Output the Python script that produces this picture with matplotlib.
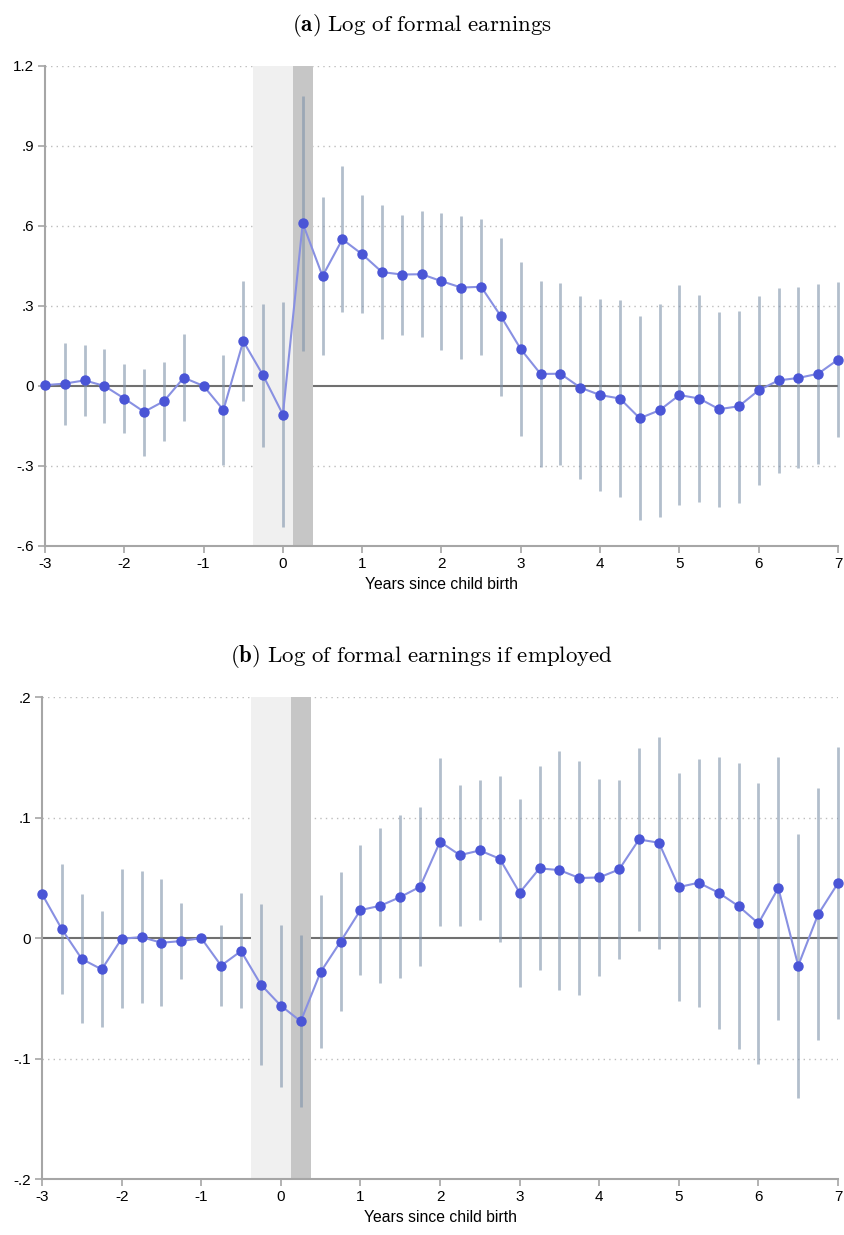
import numpy as np
import matplotlib.pyplot as plt

plt.rcParams['font.family'] = ['Liberation Sans', 'DejaVu Sans']
plt.rcParams['mathtext.fontset'] = 'cm'

# event time in years (quarterly)
years = np.arange(-3, 7.01, 0.25)

# (a) log of formal earnings
est_a = [0.003, 0.009, 0.021, 0.000, -0.047, -0.097, -0.057, 0.031, 0.000, -0.090,
         0.168, 0.040, -0.107, 0.610, 0.412, 0.550, 0.494, 0.427, 0.418, 0.419,
         0.393, 0.369, 0.372, 0.261, 0.138, 0.045, 0.046, -0.006, -0.034, -0.047,
         -0.121, -0.091, -0.034, -0.047, -0.087, -0.076, -0.016, 0.021, 0.030, 0.046,
         0.099]
hi_a = [np.nan, 0.160, 0.152, 0.137, 0.082, 0.065, 0.091, 0.195, np.nan, 0.117,
        0.395, 0.308, 0.314, 1.088, 0.710, 0.823, 0.715, 0.677, 0.642, 0.657,
        0.647, 0.637, 0.626, 0.556, 0.466, 0.395, 0.387, 0.338, 0.327, 0.324,
        0.261, 0.307, 0.379, 0.342, 0.279, 0.283, 0.338, 0.367, 0.372, 0.383,
        0.390]
lo_a = [np.nan, -0.146, -0.112, -0.137, -0.176, -0.262, -0.205, -0.132, np.nan, -0.297,
        -0.056, -0.228, -0.528, 0.133, 0.115, 0.279, 0.273, 0.175, 0.192, 0.182,
        0.135, 0.101, 0.118, -0.036, -0.188, -0.303, -0.296, -0.350, -0.392, -0.418,
        -0.501, -0.493, -0.448, -0.434, -0.455, -0.437, -0.370, -0.327, -0.308, -0.293,
        -0.192]

# (b) log of formal earnings if employed
est_b = [0.0365, 0.0072, -0.0174, -0.0260, -0.0006, 0.0008, -0.0039, -0.0025, 0.0, -0.0229,
         -0.0108, -0.0387, -0.0561, -0.0691, -0.0282, -0.0030, 0.0232, 0.0268, 0.0340, 0.0426,
         0.0799, 0.0688, 0.0727, 0.0658, 0.0376, 0.0578, 0.0564, 0.0498, 0.0503, 0.0569,
         0.0818, 0.0791, 0.0423, 0.0459, 0.0376, 0.0265, 0.0122, 0.0415, -0.0229, 0.0196,
         0.0456]
hi_b = [np.nan, 0.0611, 0.0362, 0.0221, 0.0572, 0.0558, 0.0487, 0.0293, np.nan, 0.0111,
        0.0370, 0.0279, 0.0111, 0.0022, 0.0354, 0.0550, 0.0768, 0.0912, 0.1020, 0.1086,
        0.1496, 0.1274, 0.1308, 0.1346, 0.1153, 0.1424, 0.1551, 0.1468, 0.1321, 0.1310,
        0.1578, 0.1667, 0.1368, 0.1487, 0.1504, 0.1451, 0.1283, 0.1504, 0.0865, 0.1244,
        0.1584]
lo_b = [np.nan, -0.0464, -0.0708, -0.0741, -0.0580, -0.0542, -0.0564, -0.0337, np.nan, -0.0564,
        -0.0583, -0.1050, -0.1236, -0.1402, -0.0912, -0.0608, -0.0307, -0.0376, -0.0334, -0.0229,
        0.0100, 0.0102, 0.0149, -0.0033, -0.0404, -0.0268, -0.0431, -0.0473, -0.0315, -0.0171,
        0.0058, -0.0088, -0.0522, -0.0572, -0.0757, -0.0921, -0.1042, -0.0680, -0.1324, -0.0849,
        -0.0674]

x_ticks = list(range(-3, 8))
x_ticklabels = [str(v) for v in x_ticks]
y_ticks_a = [-0.6, -0.3, 0, 0.3, 0.6, 0.9, 1.2]
y_ticklabels_a = ['-.6', '-.3', '0', '.3', '.6', '.9', '1.2']
y_ticks_b = [-0.2, -0.1, 0, 0.1, 0.2]
y_ticklabels_b = ['-.2', '-.1', '0', '.1', '.2']

titles = [r'$\mathbf{(a)}\ \mathrm{Log\ of\ formal\ earnings}$',
          r'$\mathbf{(b)}\ \mathrm{Log\ of\ formal\ earnings\ if\ employed}$']

# shaded windows (pregnancy / leave)
light_band = (-0.375, 0.125)
dark_band = (0.125, 0.375)

fig = plt.figure(figsize=(8.44, 12.35), dpi=100)
ax_a = fig.add_axes([0.0533, 0.5579, 0.9396, 0.3887])
ax_b = fig.add_axes([0.0498, 0.0453, 0.9431, 0.3903])

panels = [
    (ax_a, est_a, lo_a, hi_a, y_ticks_a, y_ticklabels_a, (-0.6, 1.2), 0.990),
    (ax_b, est_b, lo_b, hi_b, y_ticks_b, y_ticklabels_b, (-0.2, 0.2), 0.479),
]

axis_grey = '#a6a6a6'
for i, (ax, est, lo, hi, yt, ytl, ylim, ty) in enumerate(panels):
    ax.set_xlim(-3, 7)
    ax.set_ylim(*ylim)
    for v in yt:
        if v == 0 or v == ylim[0]:
            continue
        ax.axhline(v, color='#bdbdbd', lw=1.0, ls=(0, (1, 3)), zorder=1)
    ax.axhline(0, color='#707070', lw=1.5, zorder=1.5)
    ax.axvspan(*light_band, color='#f0f0f0', lw=0, zorder=2)
    ax.axvspan(*dark_band, color='#c6c6c6', lw=0, zorder=2)
    ax.vlines(years, lo, hi, color='#7f93ab', alpha=0.6, lw=2, zorder=3,
              clip_on=False)
    ax.plot(years, est, color='#8890e2', lw=1.5, zorder=4)
    ax.plot(years, est, 'o', color='#4a55d6', ms=6.5, mec='#4a55d6', zorder=5,
            clip_on=False)

    ax.set_xticks(x_ticks)
    ax.set_xticklabels(x_ticklabels)
    ax.set_yticks(yt)
    ax.set_yticklabels(ytl)
    ax.tick_params(axis='both', direction='out', length=5, width=1.2,
                   color=axis_grey, labelsize=11, pad=3)
    for s in ['top', 'right']:
        ax.spines[s].set_visible(False)
    for s in ['left', 'bottom']:
        ax.spines[s].set_color(axis_grey)
        ax.spines[s].set_linewidth(1.5)
    ax.set_xlabel('Years since child birth', fontsize=11.3, labelpad=4)
    fig.text(0.5, ty, titles[i], ha='center', va='top', fontsize=16.5)

fig.savefig('out.png', dpi=100)
